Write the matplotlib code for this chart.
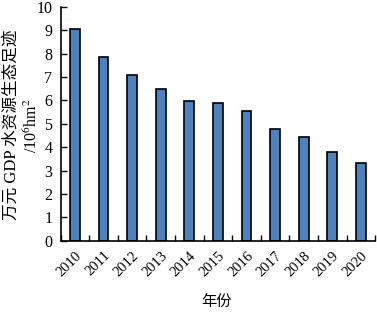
import numpy as np
import matplotlib
matplotlib.use('Agg')
import matplotlib.pyplot as plt

# ── data ──────────────────────────────────────────────────────────────────────
YEARS  = ['2010', '2011', '2012', '2013', '2014', '2015',
          '2016', '2017', '2018', '2019', '2020']
VALUES = [9.05, 7.85, 7.08, 6.47, 5.97, 5.90, 5.53, 4.79, 4.43, 3.79, 3.34]

BAR_C = '#4F81BD'
SERIF = ['Liberation Serif', 'Noto Sans CJK SC']

plt.rcParams.update({
    'font.family': SERIF,
    'mathtext.fontset': 'stix',
    'font.size': 11,
})

fig = plt.figure(figsize=(3.77, 3.13), dpi=100)
ax = fig.add_axes([0.161, 0.231, 0.834, 0.747])

x = np.arange(len(YEARS))
ax.bar(x, VALUES, width=0.34, color=BAR_C, edgecolor='black', linewidth=1.2, zorder=2)

ax.set_xlim(-0.5, len(YEARS) - 0.5)
ax.set_ylim(0, 10)
ax.set_yticks(range(0, 11))
ax.tick_params(axis='y', direction='in', length=4, width=1, labelsize=11.5, pad=6)

# labels at bar centres, tick marks between categories
ax.set_xticks(x)
ax.set_xticklabels(YEARS, rotation=45, ha='right', rotation_mode='anchor', fontsize=10.5)
ax.tick_params(axis='x', which='major', length=0, pad=6)
ax.set_xticks(np.arange(-0.5, len(YEARS)), minor=True)
ax.tick_params(axis='x', which='minor', direction='in', length=4, width=1)

for s in ('top', 'right'):
    ax.spines[s].set_visible(False)
for s in ('left', 'bottom'):
    ax.spines[s].set_linewidth(1.2)

fig.text(0.575, 0.037, '年份', ha='center', va='center', fontsize=11,
         family=['Noto Sans CJK SC'])
fig.text(0.031, 0.6, '万元 GDP 水资源生态足迹', rotation=90, ha='center', va='center',
         fontsize=12, family=SERIF)
fig.text(0.086, 0.6, r'/10$^6$hm$^2$', rotation=90, ha='center', va='center',
         fontsize=11.5)

fig.savefig('out.png', dpi=100)
